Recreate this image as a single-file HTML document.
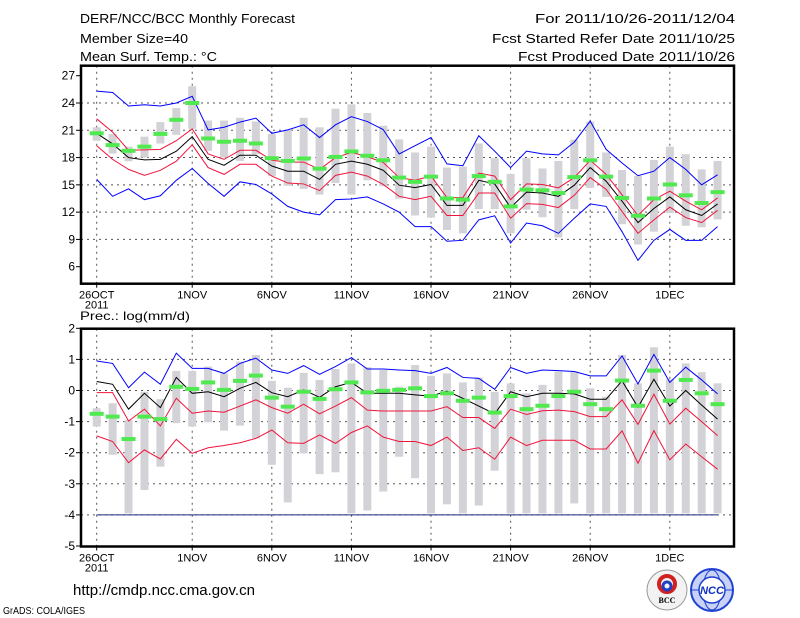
<!DOCTYPE html>
<html><head><meta charset="utf-8">
<style>
html,body{margin:0;padding:0;background:#fff;}
svg{display:block;font-family:"Liberation Sans",sans-serif;}
</style></head>
<body>
<svg id="chart" width="800" height="618" viewBox="0 0 800 618" xmlns="http://www.w3.org/2000/svg">
<g font-size="13" fill="#000">
<text x="80" y="23" textLength="215" lengthAdjust="spacingAndGlyphs">DERF/NCC/BCC Monthly Forecast</text>
<text x="80" y="43" textLength="108" lengthAdjust="spacingAndGlyphs">Member Size=40</text>
<text x="80" y="61" textLength="137" lengthAdjust="spacingAndGlyphs">Mean Surf. Temp.: °C</text>
<text x="535" y="23" textLength="200" lengthAdjust="spacingAndGlyphs">For 2011/10/26-2011/12/04</text>
<text x="492" y="43" textLength="243" lengthAdjust="spacingAndGlyphs">Fcst Started Refer Date 2011/10/25</text>
<text x="518" y="61" textLength="217" lengthAdjust="spacingAndGlyphs">Fcst Produced Date 2011/10/26</text>
</g>
<text x="80" y="320" font-size="12" textLength="110" lengthAdjust="spacingAndGlyphs">Prec.: log(mm/d)</text>
<text x="73" y="595" font-size="15" textLength="182" lengthAdjust="spacingAndGlyphs">http://cmdp.ncc.cma.gov.cn</text>
<text x="3" y="614" font-size="10" textLength="82" lengthAdjust="spacingAndGlyphs">GrADS: COLA/IGES</text>
<g>
<circle cx="667" cy="590" r="20" fill="#f2f2f2" stroke="#999" stroke-width="1"/>
<circle cx="667" cy="584" r="8" fill="none" stroke="#d02020" stroke-width="4"/>
<circle cx="667" cy="586" r="4" fill="none" stroke="#2040c0" stroke-width="3"/>
<text x="667" y="603" font-size="8" text-anchor="middle" font-family="Liberation Serif,serif" font-weight="bold">BCC</text>
</g>
<g>
<circle cx="712" cy="590" r="21" fill="#c8d2f6" stroke="#2040d0" stroke-width="2"/>
<ellipse cx="712" cy="590" rx="9" ry="20" fill="none" stroke="#2040d0" stroke-width="1"/>
<line x1="692" y1="590" x2="732" y2="590" stroke="#2040d0" stroke-width="1"/>
<circle cx="712" cy="590" r="13" fill="#fff" stroke="#2040d0" stroke-width="1.5"/>
<text x="712" y="594" font-size="11" text-anchor="middle" fill="#1030c0" font-weight="bold" font-style="italic">NCC</text>
</g>
<g id="plots"></g>
</svg>
<script>
// ---- shared x data ----
const days = Array.from({length:40},(_,i)=>i);
const dateLabels = ["26OCT","1NOV","6NOV","11NOV","16NOV","21NOV","26NOV","1DEC"];
const dateLabelDays = [0,6,11,16,21,26,31,36];

// ---- temperature panel ----
const tTicks = [6,9,12,15,18,21,24,27];
const tBlueHi = [25.3,25.15,23.67,23.8,23.67,24.0,24.74,21.04,21.33,21.9,22.33,20.67,21.04,21.6,20.2,21.6,22.5,21.96,21.07,18.4,19.3,20.2,17.3,17.1,20.4,18.7,16.9,18.7,18.4,18.3,19.7,22.0,18.9,17.4,16.0,16.5,18.0,16.7,15.0,16.1];
const tRedHi = [22.26,20.8,18.8,18.85,18.9,19.85,21.15,18.4,17.8,18.8,18.8,17.7,17.5,17.5,16.7,18.0,18.56,18.1,17.45,15.8,15.5,15.96,13.6,13.6,16.3,15.96,13.37,15.1,15.04,14.67,15.8,17.7,16.15,13.9,11.63,13.37,14.3,13.2,12.26,13.56];
const tMean = [20.67,19.5,18.0,17.74,17.8,18.7,20.3,17.8,17.15,18.26,18.26,17.07,16.5,16.5,15.6,17.26,17.6,17.26,16.6,14.96,14.7,15.04,12.74,12.74,15.5,15.1,12.5,14.2,14.1,13.74,14.96,16.9,15.4,13.2,10.85,12.4,13.67,12.26,11.63,12.9];
const tRedLo = [19.3,17.8,16.7,16.04,16.6,17.6,19.4,16.9,16.15,17.26,17.26,15.96,15.2,15.1,14.37,16.04,16.4,15.96,15.04,13.74,13.37,13.74,11.63,11.63,14.1,14.1,11.33,12.93,12.85,12.5,13.85,15.8,14.5,12.07,9.67,11.15,12.55,11.4,10.85,12.2];
const tBlueLo = [15.6,13.74,14.56,13.37,13.8,15.5,16.8,15.15,13.74,15.33,15.04,14.0,12.63,12.0,11.7,13.37,13.44,13.67,12.9,12.0,10.4,10.4,8.8,8.9,11.15,11.6,8.6,10.8,10.5,9.67,11.33,12.9,12.63,9.85,6.7,8.9,10.1,8.9,8.9,10.4];
const tObs = [20.67,19.37,18.74,19.2,20.6,22.15,24.0,20.1,19.74,19.85,19.55,17.93,17.63,17.9,16.78,18.07,18.67,18.2,17.7,15.8,15.33,15.9,13.5,13.37,15.96,15.33,12.63,14.48,14.4,14.1,15.85,17.7,15.9,13.56,11.6,13.5,15.04,13.85,13.0,14.2];
const tBarHi = [21.33,20.6,19.2,20.3,21.9,23.44,25.85,22.07,22.07,22.37,21.96,20.6,21.04,22.37,21.33,23.37,23.85,22.9,21.5,20.0,18.56,19.2,16.9,17.0,19.55,17.93,16.2,17.93,16.8,17.63,19.96,21.96,18.56,16.63,15.96,17.74,19.2,18.37,16.7,17.63];
const tBarLo = [19.85,18.44,17.6,18.0,19.55,20.5,21.15,18.74,18.0,17.63,18.37,15.96,14.9,14.55,13.93,15.2,13.93,15.5,14.85,13.48,11.63,11.4,10.04,9.67,12.33,12.33,9.67,12.26,11.44,9.22,12.33,14.67,13.67,10.67,8.44,9.85,11.9,10.5,10.33,11.2];

// ---- precipitation panel ----
const pTicks = [-5,-4,-3,-2,-1,0,1,2];
const pBlueHi = [0.95,0.87,0.09,0.59,0.2,1.2,0.71,0.71,0.55,0.87,1.04,0.66,0.55,0.8,0.52,0.77,1.06,0.69,0.69,0.66,0.64,0.55,0.74,0.42,0.39,0.04,0.74,0.55,0.66,0.64,0.61,0.47,0.47,1.11,0.21,1.16,0.26,0.75,0.34,-0.11];
const pRedHi = [-0.07,-0.07,-0.98,-0.6,-1.14,-0.25,-0.73,-0.66,-0.7,-0.5,-0.3,-0.55,-0.73,-0.44,-0.75,-0.5,-0.23,-0.63,-0.66,-0.66,-0.66,-0.66,-0.52,-0.87,-0.87,-1.22,-0.6,-0.77,-0.65,-0.63,-0.68,-0.84,-0.84,-0.3,-1.09,-0.12,-1.08,-0.57,-1.0,-1.45];
const pMean = [0.29,0.2,-0.6,-0.09,-0.55,0.42,-0.09,-0.04,-0.2,0.07,0.26,-0.07,-0.2,0.02,-0.22,0.12,0.26,-0.09,-0.09,-0.09,-0.14,-0.18,-0.02,-0.25,-0.5,-0.75,-0.04,-0.2,-0.09,-0.09,-0.11,-0.28,-0.28,0.31,-0.54,0.36,-0.5,0.0,-0.47,-0.92];
const pRedLo = [-1.46,-1.64,-2.32,-1.91,-2.2,-1.57,-2.02,-1.84,-1.77,-1.68,-1.54,-1.27,-1.68,-1.7,-1.43,-1.7,-1.35,-1.14,-1.5,-1.64,-1.64,-1.77,-1.5,-1.93,-1.84,-2.21,-1.5,-1.77,-1.6,-1.6,-1.6,-1.88,-1.88,-1.3,-2.34,-1.29,-2.23,-1.72,-2.13,-2.53];
const pBlueLo = [-4,-4,-4,-4,-4,-4,-4,-4,-4,-4,-4,-4,-4,-4,-4,-4,-4,-4,-4,-4,-4,-4,-4,-4,-4,-4,-4,-4,-4,-4,-4,-4,-4,-4,-4,-4,-4,-4,-4,-4];
const pObs = [-0.75,-0.84,-1.56,-0.84,-0.92,0.12,0.05,0.26,0.02,0.31,0.48,-0.23,-0.52,-0.04,-0.27,0.04,0.26,-0.06,-0.01,0.02,0.07,-0.18,-0.09,-0.33,-0.23,-0.71,-0.18,-0.6,-0.49,-0.18,-0.04,-0.44,-0.6,0.32,-0.49,0.64,-0.33,0.34,-0.09,-0.44];
const pBarHi = [-0.57,-0.41,-0.95,-0.04,-0.28,0.63,0.63,0.77,0.55,0.93,1.14,0.31,0.09,0.57,0.34,0.69,0.87,0.75,0.66,0.12,0.82,0.47,0.55,0.26,0.42,-0.04,0.23,-0.09,0.18,0.61,0.61,0.07,-0.2,1.14,0.23,1.39,0.36,0.87,0.59,0.23];
const pBarLo = [-1.16,-2.07,-3.95,-3.2,-2.45,-1.05,-1.16,-1.02,-1.29,-1.13,-1.54,-2.39,-3.6,-2.02,-2.69,-2.63,-3.95,-3.86,-3.25,-2.13,-2.82,-3.95,-3.66,-3.95,-3.7,-2.58,-3.95,-3.95,-3.95,-3.95,-3.63,-3.95,-3.95,-3.95,-3.95,-3.95,-3.95,-3.95,-3.95,-3.95];

const NS='http://www.w3.org/2000/svg';
const root=document.getElementById('plots');
function mk(tag,attrs,parent){const e=document.createElementNS(NS,tag);for(const k in attrs)e.setAttribute(k,attrs[k]);(parent||root).appendChild(e);return e;}
const X0=81, X1=734;
function xScale(d){return 96.7+15.92*d;}

function panel(cfg){
  const g=mk('g',{});
  
  
  const y=v=>cfg.yTop+(cfg.vMax-v)*(cfg.yBot-cfg.yTop)/(cfg.vMax-cfg.vMin);
  cfg.ticks.forEach(t=>{
    if(t>cfg.vMin && t<cfg.vMax){
      const l=mk('line',{x1:X0,x2:X1,y1:y(t),y2:y(t),stroke:'#555','stroke-dasharray':'2,4','stroke-width':1},g);
      
      
    }
  });
  dateLabelDays.forEach(d=>{
    const l=mk('line',{x1:xScale(d),x2:xScale(d),y1:cfg.frameTop,y2:cfg.frameBot,stroke:'#555','stroke-dasharray':'2,4','stroke-width':1},g);
    
    
  });
  days.forEach(i=>{
    const r=mk('rect',{x:xScale(i)-4,y:y(cfg.barHi[i]),width:8,height:y(cfg.barLo[i])-y(cfg.barHi[i]),fill:'#d3d3d7'},g);
    
    
  });
  function line(arr,color,name,w){
    const p=mk('polyline',{points:arr.map((v,i)=>xScale(i)+','+y(v)).join(' '),fill:'none',stroke:color,'stroke-width':w||1},g);
    
    
  }
  line(cfg.blueLo,cfg.blueLoColor,'lower-bound-line');
  line(cfg.blueHi,'#0000ff','upper-bound-line');
  line(cfg.redHi,'#f0143c','upper-quartile-line');
  line(cfg.redLo,'#f0143c','lower-quartile-line');
  line(cfg.mean,'#000','ensemble-mean-line');
  days.forEach(i=>{
    const r=mk('rect',{x:xScale(i)-7,y:y(cfg.obs[i])-2,width:14,height:4,fill:'#50ea50'},g);
    
    
  });
  const f=mk('rect',{x:X0,y:cfg.frameTop,width:X1-X0,height:cfg.frameBot-cfg.frameTop,fill:'none',stroke:'#000','stroke-width':2.5},g);
  
  
  cfg.ticks.forEach(t=>{
    mk('line',{x1:X0-5,x2:X0,y1:y(t),y2:y(t),stroke:'#000','stroke-width':1},g);
    const tx=mk('text',{x:X0-6,y:y(t)+4,'font-size':12,'text-anchor':'end'},g);
    
    
    tx.textContent=String(t);
  });
  dateLabelDays.forEach((d,k)=>{
    mk('line',{x1:xScale(d),x2:xScale(d),y1:cfg.frameBot,y2:cfg.frameBot+4,stroke:'#000','stroke-width':1},g);
    const tx=mk('text',{x:xScale(d),y:cfg.frameBot+15,'font-size':11,'text-anchor':'middle'},g);
    
    
    tx.textContent=dateLabels[k];
  });
  const yr=mk('text',{x:xScale(0),y:cfg.frameBot+25,'font-size':11,'text-anchor':'middle'},g);
  
  
  yr.textContent='2011';
}

panel({name:'temperature-panel',frameTop:65.7,frameBot:283.7,yTop:75.7,yBot:266.7,vMax:27,vMin:6,ticks:tTicks,
  blueHi:tBlueHi,redHi:tRedHi,mean:tMean,redLo:tRedLo,blueLo:tBlueLo,obs:tObs,barHi:tBarHi,barLo:tBarLo,blueLoColor:'#0000ff'});
panel({name:'precipitation-panel',frameTop:328.7,frameBot:546.5,yTop:328.3,yBot:546,vMax:2,vMin:-5,ticks:pTicks,
  blueHi:pBlueHi,redHi:pRedHi,mean:pMean,redLo:pRedLo,blueLo:pBlueLo,obs:pObs,barHi:pBarHi,barLo:pBarLo,blueLoColor:'#1a2a80'});
</script>
</body></html>
